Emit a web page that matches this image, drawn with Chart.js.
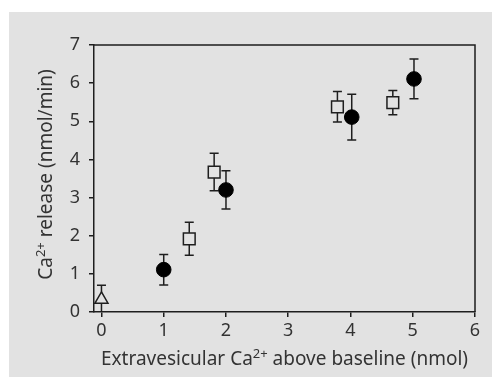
<!DOCTYPE html>
<html>
<head>
<meta charset="utf-8">
<script src="https://cdn.jsdelivr.net/npm/chart.js@4/dist/chart.umd.min.js"></script>
<style>
html,body{margin:0;padding:0;background:#ffffff;}
#wrap{width:492px;height:377px;position:relative;}
</style>
</head>
<body>
<div id="wrap"><canvas id="c" width="492" height="377"></canvas></div>
<script>
// ---- data ----
const triX = [0];
const triY = [0.33];
const triErr = [0.37];

const circleX = [1, 2, 4.02, 5.02];
const circleY = [1.11, 3.2, 5.11, 6.11];
const circleErr = [0.4, 0.5, 0.6, 0.52];

const squareX = [1.41, 1.81, 3.79, 4.68];
const squareY = [1.92, 3.67, 5.38, 5.49];
const squareErr = [0.43, 0.49, 0.4, 0.32];

const xTicks = [0, 1, 2, 3, 4, 5, 6];
const yTicks = [0, 1, 2, 3, 4, 5, 6, 7];

// axis titles: [text, isSuperscript]
const xTitleParts = [['Extravesicular Ca', false], ['2+', true], [' above baseline (nmol)', false]];
const yTitleParts = [['Ca', false], ['2+', true], [' release (nmol/min)', false]];

// ---- styling ----
const BG = '#e2e2e2';
const INK = '#1e1e1e';
const TXT = '#333333';
const FONT = 'Noto Sans';
const TITLE_SIZE = 19;
const SUP_SIZE = 13;

function pts(xs, ys, es) {
  return xs.map((x, i) => ({ x: x, y: ys[i], e: es[i] }));
}

const bgPlugin = {
  id: 'bgPanel',
  beforeDraw(chart) {
    const ctx = chart.ctx;
    ctx.save();
    ctx.fillStyle = BG;
    ctx.fillRect(9, 12, chart.width - 9, chart.height - 12);
    ctx.restore();
  }
};

const errPlugin = {
  id: 'errBars',
  beforeDatasetsDraw(chart) {
    const ctx = chart.ctx;
    const xs = chart.scales.x, ys = chart.scales.y;
    const a = chart.chartArea;
    ctx.save();
    ctx.beginPath();
    ctx.rect(a.left, a.top - 10, a.right - a.left, a.bottom - a.top + 10);
    ctx.clip();
    ctx.strokeStyle = INK;
    ctx.lineWidth = 1.5;
    const cap = 4.5;
    chart.data.datasets.forEach(ds => {
      ds.data.forEach(p => {
        const px = xs.getPixelForValue(p.x);
        const top = ys.getPixelForValue(p.y + p.e);
        const bot = ys.getPixelForValue(p.y - p.e);
        ctx.beginPath();
        ctx.moveTo(px, top); ctx.lineTo(px, bot);
        ctx.moveTo(px - cap, top); ctx.lineTo(px + cap, top);
        ctx.moveTo(px - cap, bot); ctx.lineTo(px + cap, bot);
        ctx.stroke();
      });
    });
    ctx.restore();
  }
};

function drawParts(ctx, parts, cx, baseline) {
  let total = 0;
  const widths = parts.map(([t, sup]) => {
    ctx.font = (sup ? SUP_SIZE : TITLE_SIZE) + 'px "' + FONT + '"';
    const w = ctx.measureText(t).width;
    total += w;
    return w;
  });
  let x = cx - total / 2;
  ctx.textAlign = 'left';
  ctx.textBaseline = 'alphabetic';
  parts.forEach(([t, sup], i) => {
    ctx.font = (sup ? SUP_SIZE : TITLE_SIZE) + 'px "' + FONT + '"';
    ctx.fillText(t, x, sup ? baseline - 7 : baseline);
    x += widths[i];
  });
}

const framePlugin = {
  id: 'frame',
  afterDraw(chart) {
    const ctx = chart.ctx;
    const a = chart.chartArea;
    ctx.save();
    ctx.strokeStyle = INK;
    ctx.lineWidth = 1.5;
    ctx.beginPath();
    ctx.moveTo(a.left, a.top); ctx.lineTo(a.right, a.top); ctx.lineTo(a.right, a.bottom);
    ctx.stroke();
    ctx.fillStyle = TXT;
    // x axis title
    drawParts(ctx, xTitleParts, (a.left + a.right) / 2, 365);
    // y axis title
    ctx.translate(52, (a.top + a.bottom) / 2 - 4);
    ctx.rotate(-Math.PI / 2);
    drawParts(ctx, yTitleParts, 0, 0);
    ctx.restore();
  }
};

new Chart(document.getElementById('c'), {
  type: 'scatter',
  data: {
    datasets: [
      {
        label: 'triangle',
        data: pts(triX, triY, triErr),
        pointStyle: 'triangle',
        pointRadius: 7.5,
        backgroundColor: BG,
        borderColor: INK,
        borderWidth: 1.5
      },
      {
        label: 'filled',
        data: pts(circleX, circleY, circleErr),
        pointStyle: 'circle',
        pointRadius: 7.3,
        backgroundColor: '#000000',
        borderColor: '#000000',
        borderWidth: 1
      },
      {
        label: 'open',
        data: pts(squareX, squareY, squareErr),
        pointStyle: 'rect',
        pointRadius: 8.3,
        backgroundColor: BG,
        borderColor: INK,
        borderWidth: 1.5
      }
    ]
  },
  options: {
    responsive: false,
    animation: false,
    layout: { padding: { left: 0, right: 17, top: 45, bottom: 0 } },
    plugins: {
      legend: { display: false },
      tooltip: { enabled: false }
    },
    scales: {
      x: {
        type: 'linear',
        min: -0.12,
        max: 6,
        afterBuildTicks(s) { s.ticks = xTicks.map(v => ({ value: v })); },
        afterFit(s) { s.height = 65; },
        grid: { drawOnChartArea: false, drawTicks: true, tickLength: 5, color: INK, lineWidth: 1.5 },
        border: { display: true, color: INK, width: 1.5 },
        ticks: { color: TXT, font: { family: FONT, size: 18 }, padding: 3, maxRotation: 0 },
        title: { display: false }
      },
      y: {
        type: 'linear',
        min: 0,
        max: 7,
        afterBuildTicks(s) { s.ticks = yTicks.map(v => ({ value: v })); },
        afterFit(s) { s.width = 94; },
        grid: { drawOnChartArea: false, drawTicks: true, tickLength: 5, color: INK, lineWidth: 1.5 },
        border: { display: true, color: INK, width: 1.5 },
        ticks: { color: TXT, font: { family: FONT, size: 18 }, padding: 9 },
        title: { display: false }
      }
    }
  },
  plugins: [bgPlugin, errPlugin, framePlugin]
});
</script>
</body>
</html>
